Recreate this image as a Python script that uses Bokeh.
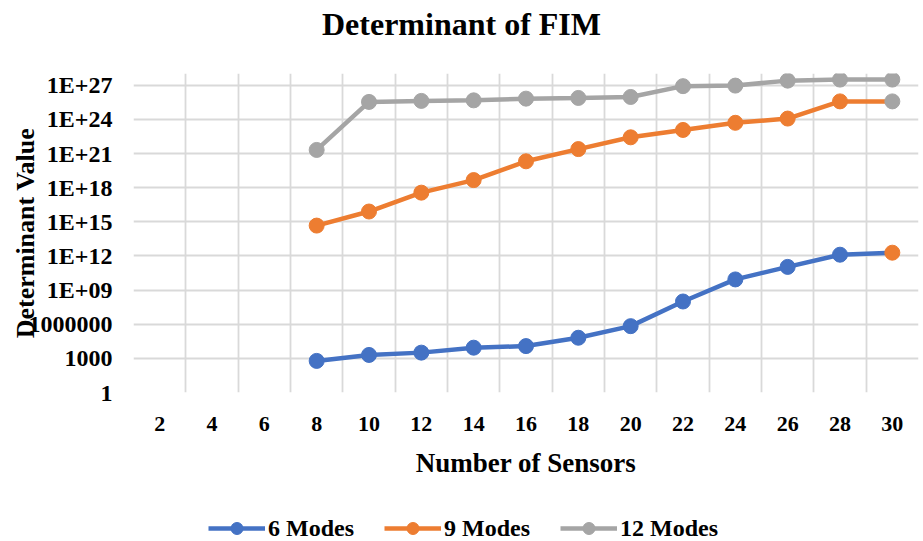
from bokeh.plotting import figure
from bokeh.layouts import column
from bokeh.models import FixedTicker, Range1d, Legend, LegendItem, Grid, Label
from bokeh.embed import file_html
from bokeh.resources import INLINE

# Number of sensors (x categories shown on the axis) and measured points
x_ticks = [2, 4, 6, 8, 10, 12, 14, 16, 18, 20, 22, 24, 26, 28, 30]
sensors = [8, 10, 12, 14, 16, 18, 20, 22, 24, 26, 28, 30]

# Determinant of the Fisher information matrix per number of modes
modes6 = [6.0e2, 2.0e3, 3.2e3, 8.7e3, 1.2e4, 6.5e4, 6.8e5, 1.0e8, 8.7e9, 1.1e11, 1.3e12, 1.95e12]
modes9 = [4.7e14, 8.1e15, 3.7e17, 4.7e18, 2.1e20, 2.5e21, 2.7e22, 1.2e23, 5.1e23, 1.2e24, 3.9e25, 3.9e25]
modes12 = [2.1e21, 3.5e25, 4.3e25, 4.8e25, 6.8e25, 7.8e25, 9.5e25, 8.5e26, 9.5e26, 2.6e27, 3.2e27, 3.2e27]

series_names = ["6 Modes", "9 Modes", "12 Modes"]
series_colors = ["#4472C4", "#ED7D31", "#A5A5A5"]
end_marker_colors = ["#ED7D31", "#A5A5A5", "#A5A5A5"]

y_ticks = [1.0, 1e3, 1e6, 1e9, 1e12, 1e15, 1e18, 1e21, 1e24, 1e27]
y_tick_labels = ["1", "1000", "1000000", "1E+09", "1E+12", "1E+15",
                 "1E+18", "1E+21", "1E+24", "1E+27"]

FONT = "Liberation Serif"


def strip(height):
    """A bare figure used to hold the heading or the legend."""
    s = figure(width=923, height=height, output_backend="svg", toolbar_location=None,
               x_range=Range1d(0, 1), y_range=Range1d(0, 1),
               min_border_left=0, min_border_right=0, min_border_top=0, min_border_bottom=0)
    s.axis.visible = False
    s.grid.visible = False
    s.outline_line_color = None
    s.border_fill_color = "white"
    return s


# Heading
head = strip(48)
head.add_layout(Label(x=328, y=25, x_units="screen", y_units="screen",
                      text="Determinant of FIM", text_align="center",
                      text_baseline="middle", text_font=FONT, text_font_size="32px",
                      text_font_style="bold", text_color="#000000"))

# Main chart
p = figure(width=923, height=445, output_backend="svg", toolbar_location=None,
           y_axis_type="log", x_range=Range1d(1, 31), y_range=Range1d(1, 1.1e28),
           min_border_left=133, min_border_right=5, min_border_top=25,
           min_border_bottom=101)
p.outline_line_color = None
p.background_fill_color = "white"
p.border_fill_color = "white"

p.xaxis.ticker = FixedTicker(ticks=x_ticks)
p.yaxis.ticker = FixedTicker(ticks=y_ticks)
p.yaxis.major_label_overrides = {t: s for t, s in zip(y_ticks, y_tick_labels)}
for ax in (p.xaxis, p.yaxis):
    ax.axis_line_color = None
    ax.major_tick_line_color = None
    ax.minor_tick_line_color = None
    ax.major_label_text_font = FONT
    ax.major_label_text_font_style = "bold"
    ax.major_label_text_color = "#000000"
    ax.axis_label_text_font = FONT
    ax.axis_label_text_font_style = "bold"
    ax.axis_label_text_font_size = "26px"
    ax.axis_label_text_color = "#000000"
p.xaxis.major_label_text_font_size = "22px"
p.yaxis.major_label_text_font_size = "24px"
p.xaxis.axis_label_text_font_size = "27px"
p.xaxis.axis_label = "Number of Sensors"
p.yaxis.axis_label = "Determinant Value"
p.xaxis.major_label_standoff = 18
p.xaxis.axis_label_standoff = 14
p.yaxis.major_label_standoff = 15
p.yaxis.axis_label_standoff = -14

# Grid: horizontal lines at each tick, vertical lines between categories
p.ygrid.grid_line_color = "#d9d9d9"
p.ygrid.grid_line_width = 1.8
p.xgrid.grid_line_color = None
p.add_layout(Grid(dimension=0, ticker=FixedTicker(ticks=list(range(1, 32, 2))),
                  grid_line_color="#d9d9d9", grid_line_width=1.8))

for ys, color, end_color in zip([modes6, modes9, modes12], series_colors, end_marker_colors):
    p.line(sensors, ys, line_color=color, line_width=4.5)
    marker_colors = [color] * (len(ys) - 1) + [end_color]
    p.scatter(sensors, ys, size=15, fill_color=marker_colors,
              line_color=marker_colors, marker="circle")

# Legend strip under the chart; the key glyphs hold no visible data
leg = strip(48)
nan = float("nan")
items = []
for name, color in zip(series_names, series_colors):
    key_line = leg.line([nan], [nan], line_color=color, line_width=4.5)
    key_dot = leg.scatter([nan], [nan], size=13, fill_color=color, line_color=color,
                          marker="circle")
    items.append(LegendItem(label=name, renderers=[key_line, key_dot]))

legend = Legend(items=items, orientation="horizontal", location=(75, -2),
                label_text_font=FONT, label_text_font_style="bold",
                label_text_font_size="24px", label_text_color="#000000",
                glyph_width=57, glyph_height=30, spacing=30, label_standoff=3,
                border_line_color=None, background_fill_alpha=0, padding=0, margin=0)
leg.add_layout(legend, "center")

layout = column(head, p, leg, spacing=0)
open("out.html", "w").write(file_html(layout, INLINE))
